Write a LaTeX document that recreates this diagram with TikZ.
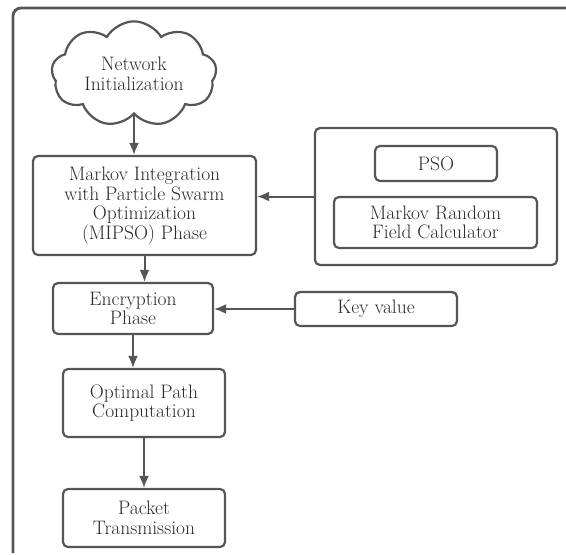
\documentclass[tikz,border=0pt]{standalone}
\usepackage{fontspec}
\definecolor{ink}{HTML}{2A2A2A}
\definecolor{line}{HTML}{555555}
\usepackage{tikz}
\usetikzlibrary{positioning, shapes.symbols, arrows.meta, calc}

\begin{document}
\begin{tikzpicture}[x=1pt, y=-1pt,
    every node/.style={font=\fontsize{19.5}{19.5}\selectfont, align=center, text=ink},
    box/.style={rounded corners=5pt, draw=line, line width=2.2pt, inner sep=0pt},
    arr/.style={-{Latex[length=12pt, width=10pt]}, line width=2pt, color=line}]
    \useasboundingbox (0,0) rectangle (566,555);
    % frame (cut at right and bottom)
    \draw[line width=2.8pt, color=line, rounded corners=8pt] (566,8) -- (13,8) -- (13,553);

    \node[cloud, cloud puffs=9, cloud puff arc=120, aspect=1.7, draw=line, line width=2.2pt, inner sep=0pt, minimum width=165pt, minimum height=104pt] (net) at (134,74) {Network\\ Initialization};
    \node[box, minimum width=223pt, minimum height=99pt] (mipso) at (144.5,205.5) {Markov Integration\\ with Particle Swarm\\ Optimization\\ (MIPSO) Phase};
    \node[box, minimum width=160pt, minimum height=51pt] (enc) at (133,308.5) {Encryption\\ Phase};
    \node[box, minimum width=162pt, minimum height=68pt] (opt) at (144,403) {Optimal Path\\ Computation};
    \node[box, minimum width=162pt, minimum height=58pt] (pkt) at (144,518) {Packet\\ Transmission};

    \node[box, minimum width=242pt, minimum height=137pt] (grp) at (436,196.5) {};
    \node[box, minimum width=122pt, minimum height=35pt] (pso) at (436,163.5) {PSO};
    \node[box, minimum width=203pt, minimum height=51pt] (mrf) at (435.5,222.5) {Markov Random\\ Field Calculator};
    \node[box, minimum width=162pt, minimum height=34pt] (key) at (376,309) {Key value};

    \draw[arr] (net.south) -- (net.south |- mipso.north);
    \draw[arr] (mipso.south) -- (mipso.south |- enc.north);
    \draw[arr] (enc.south) -- (enc.south |- opt.north);
    \draw[arr] (opt.south) -- (pkt.north);
    \draw[arr] (grp.west) -- (grp.west -| mipso.east);
    \draw[arr] (key.west) -- (key.west -| enc.east);
\end{tikzpicture}
\end{document}
